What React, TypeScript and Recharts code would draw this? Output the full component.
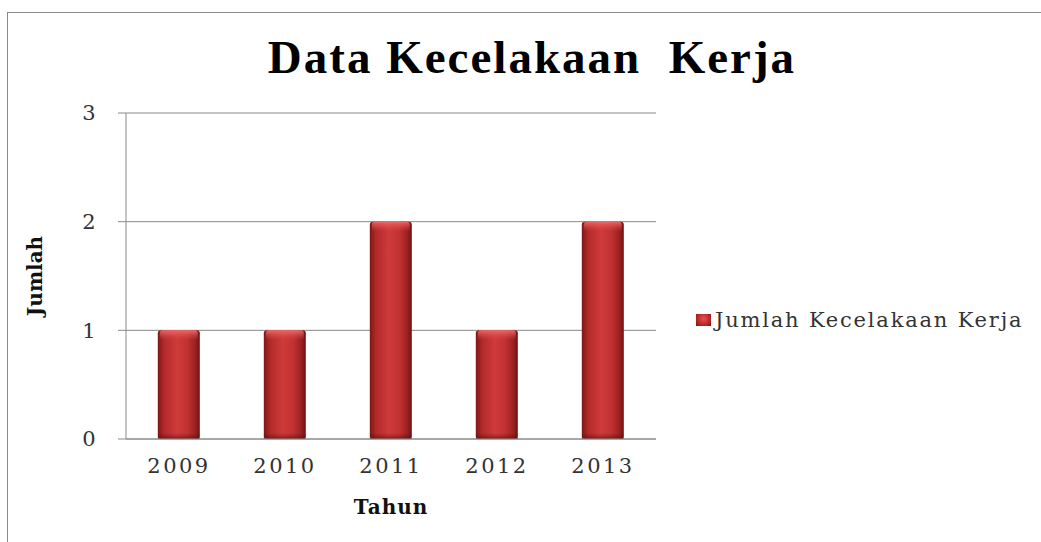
import React from 'react';
import { BarChart, Bar, XAxis, YAxis, CartesianGrid, Legend } from 'recharts';

const years = ['2009', '2010', '2011', '2012', '2013'];
const jumlah = [1, 1, 2, 1, 2];
const yTicks = [0, 1, 2, 3];

const data = years.map((tahun, i) => ({ tahun, jumlah: jumlah[i] }));

const tickFont = { fontFamily: 'DejaVu Serif', fontSize: 21, fill: '#333', letterSpacing: 2.5 };
const axisTitle = { fontFamily: 'DejaVu Serif', fontWeight: 'bold', fontSize: 20, fill: '#111' };

// cylinder-ish bar: horizontal shading plus a light top bevel
const BarShape = (props: any) => {
  const { x, y, width, height } = props;
  if (!height) return null;
  return (
    <g>
      <rect x={x} y={y} width={width} height={height} rx={3} fill="url(#barH)" />
      <rect x={x + 2} y={y} width={width - 4} height={Math.min(10, height)} rx={3} fill="url(#barTop)" />
      <rect x={x} y={y + height - 6} width={width} height={6} fill="url(#barBottom)" />
    </g>
  );
};

const LegendBox = (props: any) => {
  const items = props.payload || [];
  return (
    <div>
      {items.map((it: any) => (
        <div key={it.value} style={{ display: 'flex', alignItems: 'center', whiteSpace: 'nowrap' }}>
          <span
            style={{
              width: 15,
              height: 12,
              marginRight: 4,
              background: 'radial-gradient(circle at 50% 40%, #e85050, #b82828 60%, #7a1515)',
            }}
          />
          <span style={{ fontFamily: 'DejaVu Serif', fontSize: 21, color: '#333', letterSpacing: 1.8 }}>{it.value}</span>
        </div>
      ))}
    </div>
  );
};

export default function App() {
  return (
    <div style={{ position: 'absolute', left: 0, top: 0, width: 1041, height: 542, background: '#fff', overflow: 'hidden' }}>
      <div
        style={{
          position: 'absolute',
          left: 7,
          top: 12,
          width: 1100,
          height: 600,
          borderTop: '1px solid #8a8a8a',
          borderLeft: '1px solid #8a8a8a',
        }}
      />
      <div
        style={{
          position: 'absolute',
          left: 0,
          width: 1064,
          top: 30,
          textAlign: 'center',
          fontFamily: 'Liberation Serif',
          fontWeight: 'bold',
          fontSize: 47,
          letterSpacing: 2,
          color: '#000',
          whiteSpace: 'pre',
        }}
      >
        Data Kecelakaan  Kerja
      </div>
      <div style={{ position: 'absolute', left: 0, top: 0 }}>
        <BarChart
          width={1041}
          height={542}
          data={data}
          margin={{ top: 113, right: 385, left: 0, bottom: 0 }}
          barCategoryGap="30%"
        >
          <defs>
            <linearGradient id="barH" x1="0" y1="0" x2="1" y2="0">
              <stop offset="0%" stopColor="#7e1717" />
              <stop offset="15%" stopColor="#b22a2a" />
              <stop offset="45%" stopColor="#cf3a3a" />
              <stop offset="70%" stopColor="#c23232" />
              <stop offset="90%" stopColor="#9a2020" />
              <stop offset="100%" stopColor="#6e1212" />
            </linearGradient>
            <linearGradient id="barTop" x1="0" y1="0" x2="0" y2="1">
              <stop offset="0%" stopColor="#f07070" stopOpacity={0.9} />
              <stop offset="100%" stopColor="#d84444" stopOpacity={0} />
            </linearGradient>
            <linearGradient id="barBottom" x1="0" y1="0" x2="0" y2="1">
              <stop offset="0%" stopColor="#5a0c0c" stopOpacity={0} />
              <stop offset="100%" stopColor="#5a0c0c" stopOpacity={0.6} />
            </linearGradient>
          </defs>
          <CartesianGrid vertical={false} stroke="#8a8a8a" />
          <XAxis
            dataKey="tahun"
            height={103}
            stroke="#8a8a8a"
            tickLine={false}
            tickSize={0}
            tickMargin={19}
            tick={tickFont}
            interval={0}
            label={{ value: 'Tahun', position: 'insideBottom', offset: 28, style: { ...axisTitle, letterSpacing: 1 } }}
          />
          <YAxis
            width={126}
            domain={[0, 3]}
            ticks={yTicks}
            stroke="#8a8a8a"
            tickSize={8}
            tickMargin={20}
            tick={tickFont}
            label={{
              value: 'Jumlah',
              angle: -90,
              position: 'insideLeft',
              offset: 35,
              style: { ...axisTitle, textAnchor: 'middle' },
            }}
          />
          <Legend
            layout="vertical"
            verticalAlign="middle"
            align="center"
            wrapperStyle={{ left: 696, top: 308, width: 345 }}
            content={LegendBox}
          />
          <Bar
            dataKey="jumlah"
            name="Jumlah Kecelakaan Kerja"
            fill="#c03030"
            shape={BarShape}
            isAnimationActive={false}
          />
        </BarChart>
      </div>
    </div>
  );
}
